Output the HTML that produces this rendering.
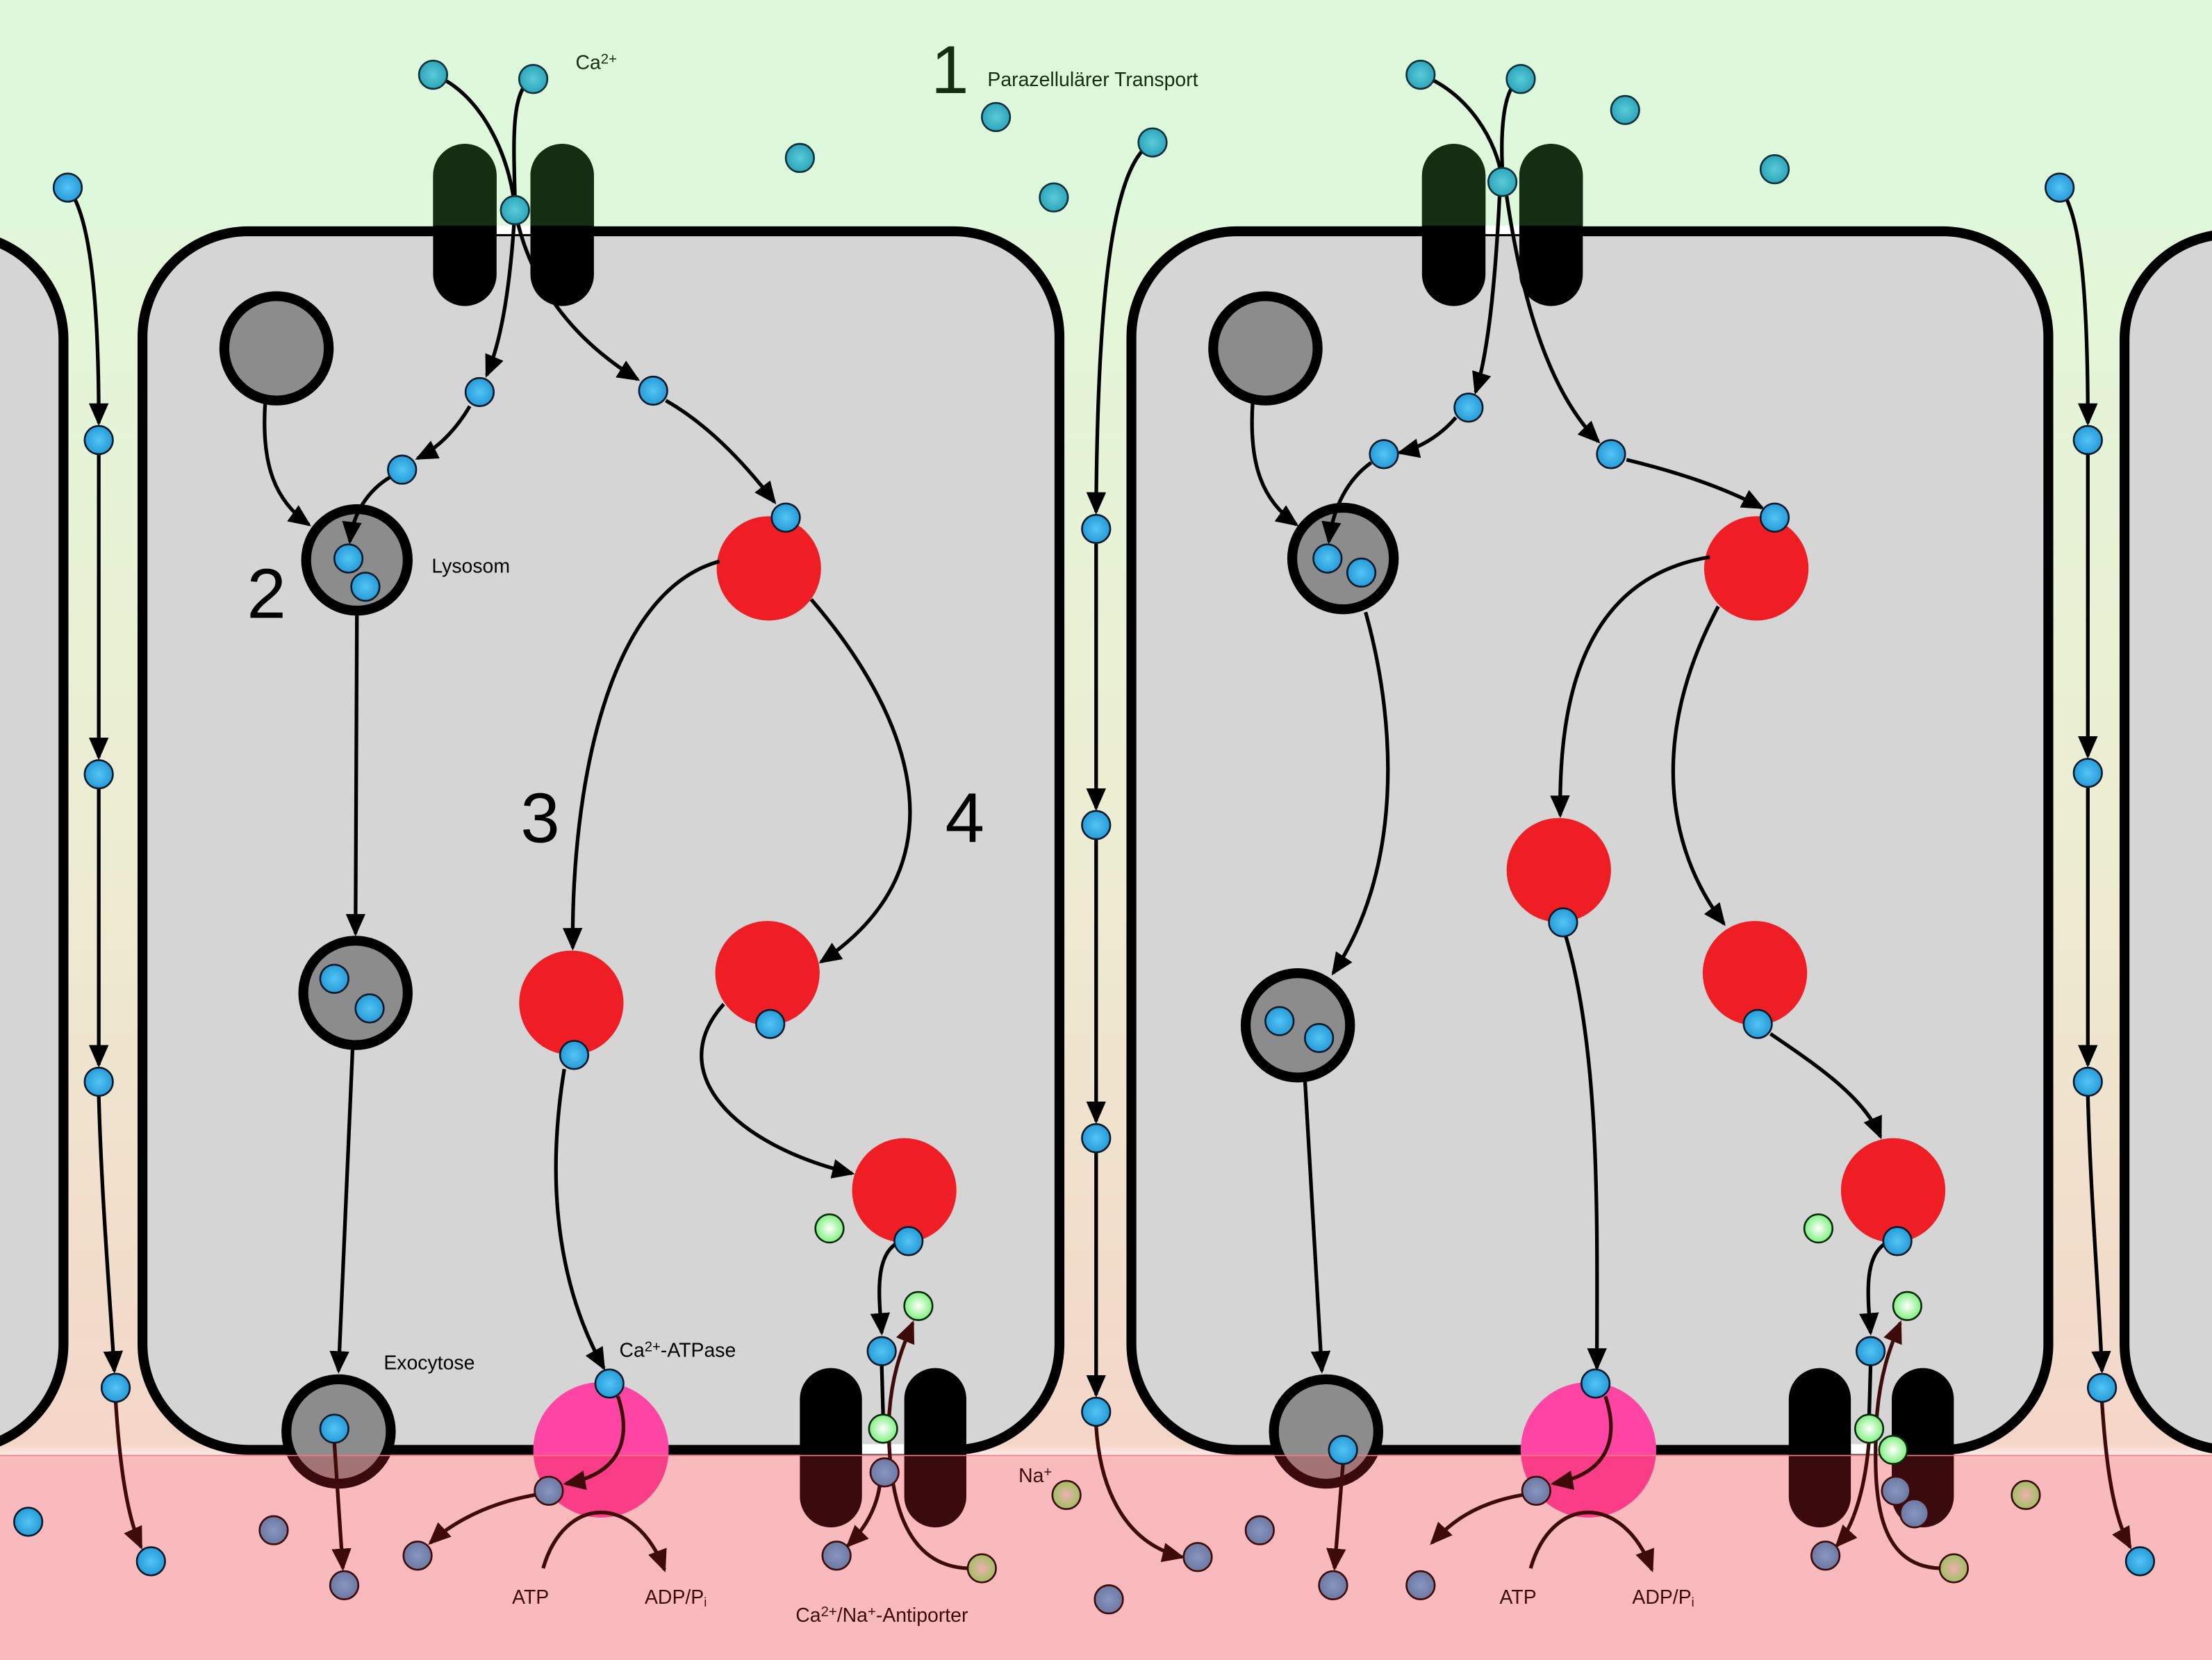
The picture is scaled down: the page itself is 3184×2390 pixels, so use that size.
<!DOCTYPE html>
<html><head><meta charset="utf-8"><style>
html,body{margin:0;padding:0;background:#fff}
svg{display:block}
text{font-family:"Liberation Sans",sans-serif}
</style></head><body>
<svg width="3184" height="2390" viewBox="0 0 1568 1177" xmlns="http://www.w3.org/2000/svg">
<defs>
<linearGradient id="bg" x1="0" y1="0" x2="0" y2="1177" gradientUnits="userSpaceOnUse">
<stop offset="0" stop-color="#ddf8da"/><stop offset="0.14" stop-color="#e2f7d9"/><stop offset="0.5" stop-color="#ecedd2"/>
<stop offset="0.87" stop-color="#f4d6c8"/><stop offset="0.877" stop-color="#ffebeb"/><stop offset="1" stop-color="#ffebeb"/>
</linearGradient>
<radialGradient id="gb" cx="0.5" cy="0.5" r="0.5"><stop offset="0" stop-color="#55c4f5"/><stop offset="1" stop-color="#259bd8"/></radialGradient>
<radialGradient id="gt" cx="0.5" cy="0.5" r="0.5"><stop offset="0" stop-color="#5ccad8"/><stop offset="1" stop-color="#2ba6ba"/></radialGradient>
<radialGradient id="gp" cx="0.5" cy="0.5" r="0.5"><stop offset="0" stop-color="#8a96c0"/><stop offset="1" stop-color="#6a78a2"/></radialGradient>
<radialGradient id="gg" cx="0.5" cy="0.5" r="0.5"><stop offset="0" stop-color="#ffffff"/><stop offset="1" stop-color="#7ef07e"/></radialGradient>
<radialGradient id="go" cx="0.5" cy="0.5" r="0.5"><stop offset="0" stop-color="#f0b0b0"/><stop offset="1" stop-color="#9cc060"/></radialGradient>
<marker id="ak" markerUnits="userSpaceOnUse" markerWidth="16" markerHeight="14" refX="14" refY="7" orient="auto"><path d="M0,0 L16,7 L0,14 z" fill="#000"/></marker>
<marker id="ar" markerUnits="userSpaceOnUse" markerWidth="16" markerHeight="14" refX="14" refY="7" orient="auto"><path d="M0,0 L16,7 L0,14 z" fill="#3f0a0a"/></marker>
<clipPath id="topc"><rect x="0" y="0" width="1568" height="160"/></clipPath>
</defs>
<rect width="1568" height="1177" fill="url(#bg)"/>
<rect x="0" y="0" width="1568" height="161" fill="#ddf8da"/>

<!-- cells -->
<g fill="#d5d5d5" stroke="#000" stroke-width="7">
<rect x="-200" y="166" width="245" height="862" rx="75"/>
<rect x="101" y="164" width="650" height="864" rx="75"/>
<rect x="802" y="164" width="650" height="864" rx="75"/>
<rect x="1506" y="166" width="300" height="862" rx="75"/>
</g>
<g fill="#fff"><rect x="352" y="160" width="24" height="6"/><rect x="1052" y="160" width="25" height="6"/>
<rect x="611" y="1024" width="30" height="7"/><rect x="1312" y="1024" width="29" height="7"/></g>

<g fill="#000">
<rect x="307" y="102" width="45" height="115" rx="22.5"/>
<rect x="376" y="102" width="45" height="115" rx="22.5"/>
<rect x="1008" y="102" width="45" height="115" rx="22.5"/>
<rect x="1077" y="102" width="45" height="115" rx="22.5"/>
<rect x="567" y="970" width="44" height="113" rx="22"/>
<rect x="641" y="970" width="44" height="113" rx="22"/>
<rect x="1268" y="970" width="44" height="113" rx="22"/>
<rect x="1341" y="970" width="44" height="113" rx="22"/>
</g>
<g fill="#152d12" clip-path="url(#topc)">
<rect x="307" y="102" width="45" height="115" rx="22.5"/>
<rect x="376" y="102" width="45" height="115" rx="22.5"/>
<rect x="1008" y="102" width="45" height="115" rx="22.5"/>
<rect x="1077" y="102" width="45" height="115" rx="22.5"/>
</g>

<g fill="#8c8c8c" stroke="#000" stroke-width="7">
<circle cx="196" cy="247" r="37"/><circle cx="253" cy="397" r="36"/><circle cx="252" cy="704" r="37"/><circle cx="240" cy="1015" r="37"/>
<circle cx="897" cy="247" r="37"/><circle cx="952" cy="396" r="36"/><circle cx="920" cy="727" r="37"/><circle cx="940" cy="1015" r="37"/>
</g>
<g fill="#ee1e24">
<circle cx="545" cy="403" r="37"/><circle cx="405" cy="711" r="37"/><circle cx="544" cy="690" r="37"/><circle cx="641" cy="844" r="37"/>
<circle cx="1245" cy="403" r="37"/><circle cx="1105" cy="617" r="37"/><circle cx="1244" cy="690" r="37"/><circle cx="1342" cy="844" r="37"/>
</g>
<g fill="#ff45a3"><circle cx="426" cy="1028" r="48"/><circle cx="1126" cy="1028" r="48"/></g>

<!-- bottom overlay -->
<rect x="0" y="1032" width="1568" height="145" fill="#e62832" fill-opacity="0.25"/>
<line x1="0" y1="1032" x2="1568" y2="1032" stroke="#f08080" stroke-width="0.8"/>

<g fill="none" stroke="#000" stroke-width="2.6">
<path d="M48,133 C62,150 70,200 70,300" marker-end="url(#ak)"/>
<path d="M70,322 L70,537" marker-end="url(#ak)"/>
<path d="M70,559 L70,755" marker-end="url(#ak)"/>
<path d="M70,777 C72,850 78,920 81,972" marker-end="url(#ak)"/>
<path d="M1460,133 C1474,150 1480,200 1480,300" marker-end="url(#ak)"/>
<path d="M1480,322 L1480,536" marker-end="url(#ak)"/>
<path d="M1480,558 L1480,755" marker-end="url(#ak)"/>
<path d="M1480,777 C1482,850 1488,920 1490,972" marker-end="url(#ak)"/>
<path d="M817,101 C790,115 778,200 777,363" marker-end="url(#ak)"/>
<path d="M777,385 L777,573" marker-end="url(#ak)"/>
<path d="M777,595 L777,795" marker-end="url(#ak)"/>
<path d="M777,817 L777,989" marker-end="url(#ak)"/>

<path d="M307,53 C340,65 362,110 365,149"/>
<path d="M378,56 C362,62 364,100 365,140"/>
<path d="M365,149 C362,200 356,240 345,266" marker-end="url(#ak)"/>
<path d="M365,149 C375,200 405,240 452,269" marker-end="url(#ak)"/>
<path d="M333,288 C323,305 310,318 296,325" marker-end="url(#ak)"/>
<path d="M277,338 C260,348 250,365 248,384" marker-end="url(#ak)"/>
<path d="M188,285 C185,330 195,355 219,372" marker-end="url(#ak)"/>
<path d="M472,284 C500,300 525,325 549,356" marker-end="url(#ak)"/>
<path d="M253,434 L252,662" marker-end="url(#ak)"/>
<path d="M250,742 L240,972" marker-end="url(#ak)"/>
<path d="M510,398 C430,420 405,560 406,672" marker-end="url(#ak)"/>
<path d="M575,425 C640,500 690,610 582,682" marker-end="url(#ak)"/>
<path d="M513,712 C470,760 520,812 604,832" marker-end="url(#ak)"/>
<path d="M400,758 C385,850 400,920 428,970" marker-end="url(#ak)"/>
<path d="M635,882 C620,892 623,920 625,945" marker-end="url(#ak)"/>
<path d="M625,968 L626,1003"/>

<path d="M1007,53 C1040,65 1062,100 1065,129"/>
<path d="M1078,56 C1064,62 1064,100 1065,120"/>
<path d="M1063,139 C1060,200 1055,250 1046,278" marker-end="url(#ak)"/>
<path d="M1068,139 C1080,220 1100,280 1133,313" marker-end="url(#ak)"/>
<path d="M1032,296 C1020,310 1005,318 992,321" marker-end="url(#ak)"/>
<path d="M972,328 C955,340 945,360 942,384" marker-end="url(#ak)"/>
<path d="M888,285 C885,330 895,355 919,372" marker-end="url(#ak)"/>
<path d="M1153,326 C1190,335 1220,345 1249,360" marker-end="url(#ak)"/>
<path d="M968,434 C992,520 992,620 945,690" marker-end="url(#ak)"/>
<path d="M925,765 L937,972" marker-end="url(#ak)"/>
<path d="M1212,395 C1120,410 1105,500 1106,578" marker-end="url(#ak)"/>
<path d="M1218,430 C1170,520 1180,600 1222,655" marker-end="url(#ak)"/>
<path d="M1110,664 C1135,750 1132,870 1132,970" marker-end="url(#ak)"/>
<path d="M1255,733 C1295,760 1322,780 1333,806" marker-end="url(#ak)"/>
<path d="M1336,882 C1321,892 1324,920 1326,945" marker-end="url(#ak)"/>
<path d="M1326,968 L1325,1003"/>
</g>

<g fill="none" stroke="#3f0a0a" stroke-width="2.6">
<path d="M82,994 C85,1040 90,1075 100,1097" marker-end="url(#ar)"/>
<path d="M1490,994 C1493,1040 1498,1075 1510,1097" marker-end="url(#ar)"/>
<path d="M777,1011 C780,1060 800,1095 838,1104" marker-end="url(#ar)"/>
<path d="M237,1023 L243,1112" marker-end="url(#ar)"/>
<path d="M438,990 C448,1020 440,1045 401,1052" marker-end="url(#ar)"/>
<path d="M379,1060 C345,1066 320,1080 305,1094" marker-end="url(#ar)"/>
<path d="M385,1112 C400,1060 450,1058 471,1113" marker-end="url(#ar)"/>
<path d="M624,1050 C622,1070 612,1085 601,1096" marker-end="url(#ar)"/>
<path d="M686,1112 C640,1110 630,1060 630,1010 C631,975 640,955 647,938" marker-end="url(#ar)"/>
<path d="M952,1038 L946,1112" marker-end="url(#ar)"/>
<path d="M1138,990 C1148,1020 1140,1045 1101,1052" marker-end="url(#ar)"/>
<path d="M1079,1060 C1045,1066 1028,1080 1015,1094" marker-end="url(#ar)"/>
<path d="M1085,1112 C1100,1060 1150,1058 1171,1113" marker-end="url(#ar)"/>
<path d="M1325,1020 C1322,1060 1312,1085 1302,1096" marker-end="url(#ar)"/>
<path d="M1375,1112 C1330,1110 1328,1060 1330,1010 C1332,975 1340,955 1347,938" marker-end="url(#ar)"/>
</g>

<g stroke="#10303a" stroke-width="1.3" fill="url(#gt)">
<circle cx="307" cy="53" r="10"/><circle cx="378" cy="56" r="10"/><circle cx="365" cy="149" r="10"/>
<circle cx="1007" cy="53" r="10"/><circle cx="1078" cy="56" r="10"/><circle cx="1065" cy="129" r="10"/>
<circle cx="567" cy="112" r="10"/><circle cx="706" cy="83" r="10"/><circle cx="747" cy="140" r="10"/><circle cx="817" cy="101" r="10"/>
<circle cx="1152" cy="78" r="10"/><circle cx="1258" cy="120" r="10"/>
</g>
<g stroke="#0a1a2a" stroke-width="1.3" fill="url(#gb)">
<circle cx="48" cy="133" r="10"/><circle cx="70" cy="312" r="10"/><circle cx="70" cy="549" r="10"/><circle cx="70" cy="767" r="10"/><circle cx="82" cy="984" r="10"/><circle cx="107" cy="1107" r="10"/><circle cx="20" cy="1079" r="10"/>
<circle cx="1460" cy="133" r="10"/><circle cx="1480" cy="312" r="10"/><circle cx="1480" cy="548" r="10"/><circle cx="1480" cy="767" r="10"/><circle cx="1490" cy="984" r="10"/><circle cx="1517" cy="1107" r="10"/>
<circle cx="777" cy="375" r="10"/><circle cx="777" cy="585" r="10"/><circle cx="777" cy="807" r="10"/><circle cx="777" cy="1001" r="10"/>
<circle cx="340" cy="278" r="10"/><circle cx="285" cy="333" r="10"/><circle cx="463" cy="277" r="10"/><circle cx="557" cy="367" r="10"/>
<circle cx="247" cy="396" r="10"/><circle cx="259" cy="416" r="10"/><circle cx="237" cy="694" r="10"/><circle cx="262" cy="715" r="10"/><circle cx="237" cy="1013" r="10"/>
<circle cx="407" cy="748" r="10"/><circle cx="546" cy="726" r="10"/><circle cx="644" cy="880" r="10"/><circle cx="432" cy="981" r="10"/><circle cx="625" cy="958" r="10"/>
<circle cx="1041" cy="289" r="10"/><circle cx="981" cy="322" r="10"/><circle cx="1142" cy="322" r="10"/><circle cx="1258" cy="367" r="10"/>
<circle cx="941" cy="396" r="10"/><circle cx="965" cy="406" r="10"/><circle cx="907" cy="724" r="10"/><circle cx="935" cy="736" r="10"/><circle cx="952" cy="1028" r="10"/>
<circle cx="1108" cy="654" r="10"/><circle cx="1246" cy="726" r="10"/><circle cx="1345" cy="880" r="10"/><circle cx="1131" cy="981" r="10"/><circle cx="1326" cy="958" r="10"/>
</g>
<g stroke="#0a2a0a" stroke-width="1.3" fill="url(#gg)">
<circle cx="588" cy="871" r="10"/><circle cx="651" cy="926" r="10"/><circle cx="626" cy="1013" r="10"/>
<circle cx="1289" cy="871" r="10"/><circle cx="1352" cy="926" r="10"/><circle cx="1325" cy="1013" r="10"/><circle cx="1342" cy="1028" r="10"/>
</g>
<g stroke="#3f0a0a" stroke-width="1.3" fill="url(#gp)">
<circle cx="627" cy="1044" r="10"/><circle cx="389" cy="1057" r="10"/><circle cx="1089" cy="1057" r="10"/>
<circle cx="244" cy="1124" r="10"/><circle cx="296" cy="1103" r="10"/><circle cx="194" cy="1085" r="10"/><circle cx="593" cy="1103" r="10"/>
<circle cx="849" cy="1104" r="10"/><circle cx="786" cy="1134" r="10"/><circle cx="893" cy="1085" r="10"/><circle cx="945" cy="1124" r="10"/>
<circle cx="1007" cy="1124" r="10"/><circle cx="1294" cy="1103" r="10"/><circle cx="1344" cy="1057" r="10"/><circle cx="1357" cy="1073" r="10"/>
</g>
<g stroke="#3f0a0a" stroke-width="1.3" fill="url(#go)">
<circle cx="696" cy="1112" r="10"/><circle cx="756" cy="1060" r="10"/><circle cx="1385" cy="1112" r="10"/><circle cx="1436" cy="1060" r="10"/>
</g>

<g fill="#152d12" font-size="14">
<text x="408" y="49">Ca<tspan font-size="10" dy="-4">2+</tspan></text>
<text x="700" y="61">Parazellulärer Transport</text>
<text x="660" y="66" font-size="48">1</text>
</g>
<g fill="#000" font-size="14">
<text x="306" y="406">Lysosom</text>
<text x="272" y="971">Exocytose</text>
<text x="439" y="962">Ca<tspan font-size="10" dy="-4">2+</tspan><tspan dy="4">-ATPase</tspan></text>
<text x="175" y="438" font-size="50">2</text>
<text x="369" y="597" font-size="50">3</text>
<text x="670" y="597" font-size="50">4</text>
</g>
<g fill="#3f0a0a" font-size="14">
<text x="722" y="1051">Na<tspan font-size="10" dy="-4">+</tspan></text>
<text x="363" y="1137">ATP</text>
<text x="457" y="1137">ADP/P<tspan font-size="9" dy="2">i</tspan></text>
<text x="1063" y="1137">ATP</text>
<text x="1157" y="1137">ADP/P<tspan font-size="9" dy="2">i</tspan></text>
<text x="564" y="1150">Ca<tspan font-size="10" dy="-4">2+</tspan><tspan dy="4">/Na</tspan><tspan font-size="10" dy="-4">+</tspan><tspan dy="4">-Antiporter</tspan></text>
</g>
</svg>
</body></html>
